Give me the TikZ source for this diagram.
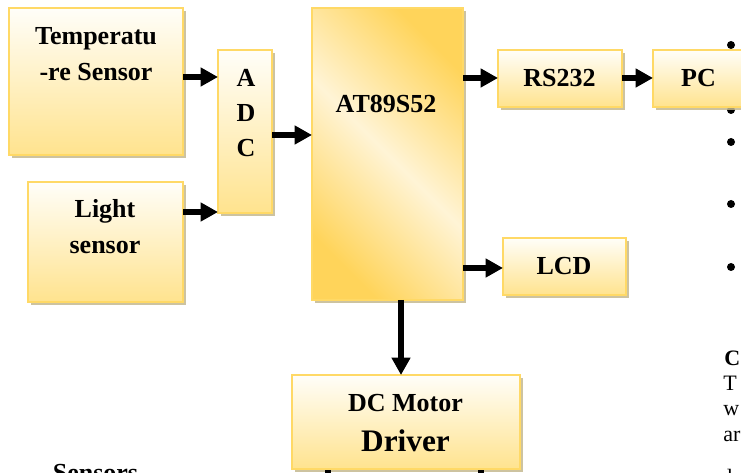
\documentclass[tikz,border=0pt]{standalone}
\usepackage{fontspec}
\setmainfont{Liberation Serif}
\usetikzlibrary{arrows.meta,shadows}
\definecolor{bord}{HTML}{FFD966}
\definecolor{topc}{HTML}{FFFEF9}
\definecolor{botc}{HTML}{FFE38E}
\definecolor{shad}{HTML}{C4B98F}
\definecolor{goldc}{HTML}{FFD45A}
\definecolor{midc}{HTML}{FFF4D6}
\newcommand{\pxu}{0.75pt}
\begin{document}
\begin{tikzpicture}[x=0.75pt,y=-0.75pt,
  blk/.style={draw=bord, line width=1.6pt, top color=topc, bottom color=botc,
    drop shadow={shadow xshift=2.6pt, shadow yshift=-2.6pt, fill=shad, opacity=0.85},
    inner sep=0pt, outer sep=0pt},
  lbl/.style={font=\bfseries\fontsize{19.5}{26}\selectfont, inner sep=0pt, anchor=base},
  body/.style={font=\fontsize{16.5}{22}\selectfont, inner sep=0pt, anchor=base west},
  arr/.style={line width=4.5pt, -{Triangle[length=13pt,width=13.5pt]}},
  bar/.style={line width=4.5pt}]
\useasboundingbox (0,0) rectangle (741,473);

% bullets of the neighbouring text
\fill (731,45) circle[radius=3pt];
\fill (731,110) circle[radius=3pt];
\fill (731,142) circle[radius=3pt];
\fill (731,204) circle[radius=3pt];
\fill (731,267) circle[radius=3pt];

% boxes
\node[blk, minimum width={174*\pxu}, minimum height={147*\pxu}] (temp) at (96,81.5) {};
\node[blk, minimum width={54*\pxu}, minimum height={163*\pxu}] (adc) at (245,131.5) {};
\node[blk, minimum width={155*\pxu}, minimum height={120*\pxu}] (light) at (105.5,242) {};
\node[blk, left color=goldc, right color=goldc, middle color=midc, shading angle=135,
      minimum width={151*\pxu}, minimum height={292*\pxu}] (main) at (387.5,154) {};
\node[blk, minimum width={124*\pxu}, minimum height={57*\pxu}] (rs) at (560,78.5) {};
\node[blk, minimum width={90*\pxu}, minimum height={57*\pxu}] (pc) at (698,78.5) {};
\node[blk, minimum width={123*\pxu}, minimum height={57*\pxu}] (lcd) at (564.5,266.5) {};
\node[blk, minimum width={228*\pxu}, minimum height={94*\pxu}] (dc) at (406,422) {};

% labels
\node[lbl] (tempA) at (96,45) {Temperatu};
\node[lbl] (tempB) at (96,81) {-re Sensor};
\node[lbl] (lightA) at (105,218) {Light};
\node[lbl] (lightB) at (105,254) {sensor};
\node[lbl] (adcA) at (246,87) {A};
\node[lbl] (adcD) at (246,122) {D};
\node[lbl] (adcC) at (246,157) {C};
\node[lbl] (mainT) at (386,113) {AT89S52};
\node[lbl] (rsT) at (559.5,87) {RS232};
\node[lbl] (pcT) at (698.5,87) {PC};
\node[lbl] (lcdT) at (564,275) {LCD};
\node[lbl] (dcA) at (405.5,411.5) {DC Motor};
\node[lbl, font=\bfseries\fontsize{23.5}{28}\selectfont] (dcB) at (405.5,451.5) {Driver};
\node[lbl] (sens) at (95.5,481.5) {Sensors};

% neighbouring body text (cut by the page edge)
\node[body, font=\bfseries\fontsize{16.5}{22}\selectfont] (r1) at (724,365) {C};
\node[body] (r2) at (723,390.5) {T};
\node[body] (r3) at (723,415) {w};
\node[body] (r4) at (723,441) {ar};
\node[body] (r5) at (721,484) {d};

% helper coordinates
\coordinate (yA) at (0,77);
\coordinate (yB) at (0,212);
\coordinate (yC) at (0,135);
\coordinate (yD) at (0,78);
\coordinate (yE) at (0,268);
\coordinate (xF) at (401,0);
\coordinate (o1) at (328,495);
\coordinate (o2) at (481,495);

% connectors
\draw[arr] (temp.east |- yA) -- (adc.west |- yA);
\draw[arr] (light.east |- yB) -- (adc.west |- yB);
\draw[arr] (adc.east |- yC) -- (main.west |- yC);
\draw[arr] (main.east |- yD) -- (rs.west |- yD);
\draw[arr] (rs.east |- yD) -- (pc.west |- yD);
\draw[arr] (main.east |- yE) -- (lcd.west |- yE);
\draw[arr] (main.south -| xF) -- (dc.north -| xF);
\draw[bar] ([yshift=-1pt]dc.south -| o1) -- (o1);
\draw[bar] ([yshift=-1pt]dc.south -| o2) -- (o2);
\end{tikzpicture}
\end{document}
